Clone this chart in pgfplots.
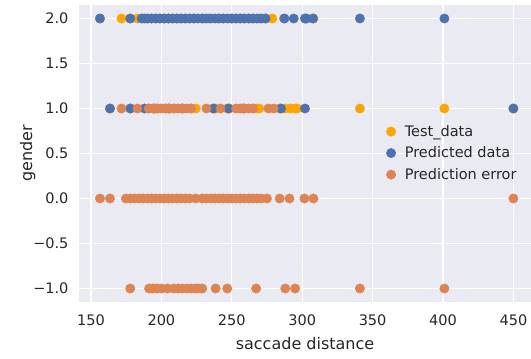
\documentclass[border=0pt]{standalone}
\usepackage{fontspec}
\setmainfont{DejaVu Sans}
\usepackage{pgfplots}
\pgfplotsset{compat=1.18}
\definecolor{bgax}{HTML}{EAEAF2}
\definecolor{txt}{HTML}{262626}
\definecolor{cTest}{HTML}{FFA500}
\definecolor{cPred}{HTML}{4C72B0}
\definecolor{cErr}{HTML}{DD8452}
\begin{document}
\begin{tikzpicture}[x=1pt,y=1pt]
\path[use as bounding box] (0,0) rectangle (531,359);
\begin{axis}[
  at={(79pt,57pt)}, anchor=south west,
  width=452pt, height=297pt, scale only axis,
  xmin=141.5, xmax=462.5, ymin=-1.15, ymax=2.15,
  axis background/.style={fill=bgax},
  axis line style={draw=none},
  major tick length=0pt,
  grid=major,
  major grid style={white, line width=1.2pt},
  xtick={150,200,...,450},
  xticklabels={150,200,250,300,350,400,450},
  ytick={-1,-0.5,0,0.5,1,1.5,2},
  yticklabels={−1.0,−0.5,0.0,0.5,1.0,1.5,2.0},
  tick label style={font=\fontsize{14.5}{17}\selectfont, text=txt},
  xticklabel style={yshift=-9pt},
  yticklabel style={xshift=-7pt},
  xlabel={saccade distance},
  ylabel={gender},
  label style={font=\fontsize{16}{19}\selectfont, text=txt},
  xlabel style={yshift=-5pt},
  ylabel style={yshift=-9pt},
  legend style={draw=none, fill=none, at={(0.673,0.609)}, anchor=north west,
    font=\fontsize{14.5}{17}\selectfont, text=txt, row sep=5pt,
    /tikz/every odd column/.append style={column sep=7pt}},
  legend cell align=left,
  legend image code/.code={\draw[#1] plot coordinates {(0pt,0pt)};},
  clip=false,
]
% test labels
\addplot[only marks, mark=*, mark size=4.7pt, color=cTest, mark options={draw=none, fill=cTest}] coordinates {
(156.4,2) (171.7,2) (177.9,2) (183,2) (186,2) (190,2) (193,2) (196,2) (199,2) (202,2)
(205,2) (208,2) (211,2) (214,2) (217,2) (220,2) (223,2) (230,2) (234,2) (240,2)
(244,2) (250,2) (253,2) (256,2) (259,2) (262,2) (265,2) (270,2) (274,2) (278.7,2)
(287,2) (302,2) (308,2)
(163.5,1) (177.9,1) (191,1) (197,1) (203,1) (209,1) (215,1) (221,1) (224.4,1)
(237,1) (238.5,1) (246.8,1) (248,1) (267.3,1) (269.5,1) (284,1) (288,1) (291.6,1) (295,1)
(296.3,1) (341,1) (401,1) (450,1)
};
\addlegendentry{Test\_data}
% model output
\addplot[only marks, mark=*, mark size=4.7pt, color=cPred, mark options={draw=none, fill=cPred}] coordinates {
(156.4,2) (177.9,2) (186,2) (188,2) (190,2) (193,2) (196,2) (199,2) (202,2) (205,2)
(208,2) (211,2) (214,2) (217,2) (220,2) (223,2) (226,2) (229,2) (232,2) (235,2)
(238,2) (241,2) (244,2) (247,2) (250,2) (253,2) (256,2) (259,2) (262,2) (265,2)
(268,2) (271,2) (274,2) (287.4,2) (294,2) (302,2) (303,2) (307.7,2) (341,2) (401,2)
(163.5,1) (178,1) (188,1) (195,1) (205,1) (215,1) (237,1) (247.7,1) (258,1) (285,1)
(302,1) (450,1)
};
\addlegendentry{Predicted data}
% test label minus model output
\addplot[only marks, mark=*, mark size=4.7pt, color=cErr, mark options={draw=none, fill=cErr}] coordinates {
(171.7,1) (183,1) (191,1) (194,1) (197,1) (200,1) (203,1) (206,1) (209,1) (212,1)
(215,1) (218,1) (221,1) (232,1) (242,1) (253,1) (256,1) (259,1) (262,1) (265,1)
(276,1) (279.8,1)
(156.4,0) (163.5,0) (174.8,0) (178,0) (181,0) (184,0) (187,0) (190,0) (193,0) (196,0)
(199,0) (202,0) (205,0) (208,0) (211,0) (214,0) (217,0) (220,0) (224.4,0) (229,0)
(232,0) (235,0) (238,0) (241,0) (244,0) (247,0) (250,0) (253,0) (256,0) (259,0)
(262,0) (265,0) (268,0) (271,0) (275,0) (284,0) (291,0) (301.6,0) (308,0) (450,0)
(177.9,-1) (191.3,-1) (194,-1) (197,-1) (200,-1) (204.3,-1) (209,-1) (212,-1) (215,-1) (218,-1)
(221,-1) (224,-1) (226,-1) (229,-1) (238.5,-1) (246.8,-1) (267.3,-1) (288,-1) (295,-1) (341,-1)
(401,-1)
};
\addlegendentry{Prediction error}
\end{axis}
\end{tikzpicture}
\end{document}
